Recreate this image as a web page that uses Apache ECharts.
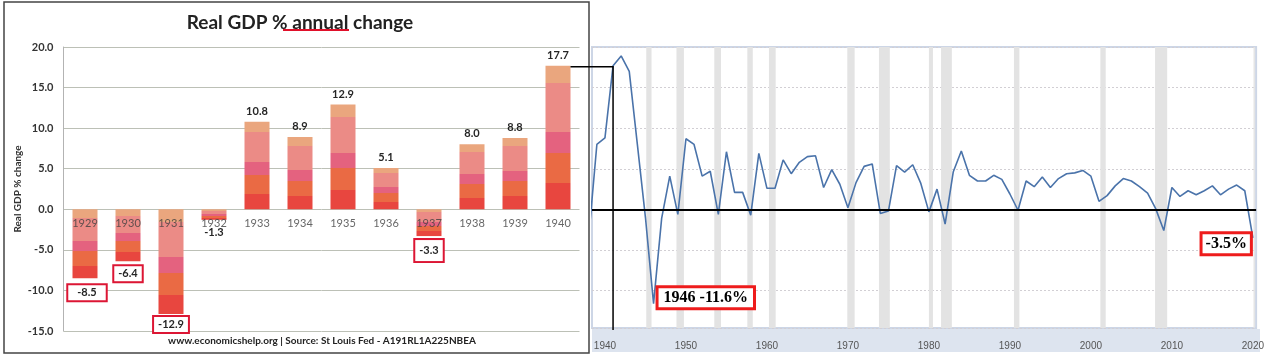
<!DOCTYPE html>
<html><head><meta charset="utf-8">
<script src="https://cdn.jsdelivr.net/npm/echarts@6/dist/echarts.min.js"></script>
<style>html,body{margin:0;padding:0;background:#fff}#c{width:1267px;height:358px}</style>
</head><body><div id="c"></div>
<script>
// ---- Left chart data (1929-1940 as labelled in the picture) ----
const leftYears = ['1929','1930','1931','1932','1933','1934','1935','1936','1937','1938','1939','1940'];
const leftValues = [-8.5,-6.4,-12.9,-1.3,10.8,8.9,12.9,5.1,-3.3,8.0,8.8,17.7];
const boxedYears = ['1929','1930','1931','1937'];
const leftTicks = [-15,-10,-5,0,5,10,15,20];

// ---- Right chart data (annual real GDP % change) ----
const rightYears = [1938,1939,1940,1941,1942,1943,1944,1945,1946,1947,1948,1949,
 1950,1951,1952,1953,1954,1955,1956,1957,1958,1959,
 1960,1961,1962,1963,1964,1965,1966,1967,1968,1969,
 1970,1971,1972,1973,1974,1975,1976,1977,1978,1979,
 1980,1981,1982,1983,1984,1985,1986,1987,1988,1989,
 1990,1991,1992,1993,1994,1995,1996,1997,1998,1999,
 2000,2001,2002,2003,2004,2005,2006,2007,2008,2009,
 2010,2011,2012,2013,2014,2015,2016,2017,2018,2019,2020];
const rightValues = [-3.3,8.0,8.8,17.7,18.9,17.0,8.0,-1.0,-11.6,-1.1,4.1,-0.6,
 8.7,8.0,4.1,4.7,-0.6,7.1,2.1,2.1,-0.7,6.9,
 2.6,2.6,6.1,4.4,5.8,6.5,6.6,2.7,4.9,3.1,
 0.2,3.3,5.3,5.6,-0.5,-0.2,5.4,4.6,5.5,3.2,
 -0.3,2.5,-1.8,4.6,7.2,4.2,3.5,3.5,4.2,3.7,
 1.9,-0.1,3.5,2.8,4.0,2.7,3.8,4.4,4.5,4.8,
 4.1,1.0,1.7,2.9,3.8,3.5,2.8,2.0,0.1,-2.6,
 2.7,1.6,2.3,1.8,2.3,2.9,1.8,2.5,3.0,2.3,-3.5];
const rightTickYears = [1940,1950,1960,1970,1980,1990,2000,2010,2020];
const recessionStarts = [1945.1,1948.83,1953.5,1957.58,1960.25,1969.92,1973.83,1980.0,1981.5,1990.5,2001.17,2007.92,2020.08];
const recessionEnds   = [1945.75,1949.75,1954.33,1958.25,1961.08,1970.83,1975.17,1980.5,1982.83,1991.17,2001.83,2009.42,2020.25];
const annotatedYears = {1946: true, 2020: false}; // true => include year in text

// ---- styles ----
const barGradient = {type:'linear',x:0,y:0,x2:0,y2:1,colorStops:[
 {offset:0,color:'#eaa67e'},{offset:0.12,color:'#eaa67e'},
 {offset:0.12,color:'#eb8b86'},{offset:0.46,color:'#eb8b86'},
 {offset:0.46,color:'#e4627f'},{offset:0.61,color:'#e4627f'},
 {offset:0.61,color:'#ea6a44'},{offset:0.82,color:'#ea6a44'},
 {offset:0.82,color:'#e8463f'},{offset:1,color:'#e8463f'}]};
const boxLabelStyle = {
 '1929': {distance:7, padding:[2,9,2,9], offset:[2,0]},
 '1930': {distance:5, padding:[2,4,2,4], offset:[0,0]},
 '1931': {distance:3, padding:[2,4,2,4], offset:[0,0]},
 '1937': {distance:4, padding:[5,4,5,4], offset:[0,0]}
};

const barData = leftValues.map((v,i)=>{
  const y = leftYears[i];
  const item = {value:v};
  if (boxedYears.includes(y)) {
    const s = boxLabelStyle[y];
    item.label = {show:true, position:'bottom', distance:s.distance, offset:s.offset,
      padding:s.padding, borderColor:'#dc1634', borderWidth:2, backgroundColor:'#fff'};
  } else if (v < 0) {
    item.label = {show:true, position:'bottom', distance:7};
  }
  return item;
});
// category labels sit on the zero line (Excel "next to axis")
const yearLabelData = leftYears.map((y)=>({value:0, name:y}));

const lineData = rightYears.map((y,i)=>{
  const item = {value:[y, rightValues[i]]};
  if (y in annotatedYears) {
    const withYear = annotatedYears[y];
    item.label = withYear ?
      {show:true, position:'right', distance:5, offset:[0,-6], padding:[2,5,1,5]} :
      {show:true, position:'left', distance:3, offset:[0,6], padding:[2,3,1,3]};
    item.label.formatter = withYear ? (p)=> p.value[0]+' '+p.value[1].toFixed(1)+'%' : (p)=> p.value[1].toFixed(1)+'%';
  }
  return item;
});

const markAreas = recessionStarts.map((s,i)=>[{xAxis:s},{xAxis:recessionEnds[i]}]);

const chart = echarts.init(document.getElementById('c'), null, {renderer:'canvas'});
const option = {
  animation:false,
  backgroundColor:'#fff',
  title:{text:'Real GDP % annual change', left:295, top:8, textAlign:'center',
    textStyle:{fontFamily:'Lato', fontWeight:'bold', fontSize:19, color:'#222'}},
  grid:[
    {left:63.5, top:47, width:516, height:284},
    {left:592, top:47, width:667, height:281, show:true, borderColor:'#cdd6e6', borderWidth:2, backgroundColor:'transparent'}
  ],
  xAxis:[
    {type:'category', gridIndex:0, data:leftYears,
     axisLine:{show:false}, axisTick:{show:false}, axisLabel:{show:false}},
    {type:'value', gridIndex:1, min:1938.4, max:2020.4, z:10,
     axisLine:{show:false}, axisTick:{show:false}, splitLine:{show:false},
     axisLabel:{customValues:rightTickYears, color:'#555', fontFamily:'Liberation Sans', fontSize:10, margin:13,
       formatter:(v)=>String(Math.round(v))}}
  ],
  yAxis:[
    {type:'value', gridIndex:0, min:leftTicks[0], max:leftTicks[leftTicks.length-1], interval:5,
     name:'Real GDP % change', nameLocation:'middle', nameGap:41, nameRotate:90,
     nameTextStyle:{fontFamily:'Lato', fontWeight:'bold', fontSize:10, color:'#333'},
     axisLine:{show:true, lineStyle:{color:'#b3b3b3'}}, axisTick:{show:false},
     axisLabel:{fontFamily:'Lato', fontWeight:'bold', fontSize:11, color:'#333', margin:10,
       formatter:(v)=>v.toFixed(1)},
     splitLine:{lineStyle:{color:'#bcc0b6', width:1}}},
    {type:'value', gridIndex:1, min:-14.6, max:20, splitNumber:7,
     axisLine:{show:false}, axisTick:{show:false}, axisLabel:{show:false},
     splitLine:{lineStyle:{color:'#d2cfd4', width:1, type:[2,2]}}}
  ],
  series:[
    {type:'bar', xAxisIndex:0, yAxisIndex:0, data:barData, barWidth:25,
     itemStyle:{color:barGradient},
     label:{show:true, position:'top', distance:5, fontFamily:'Lato', fontWeight:'bold', fontSize:11, color:'#262626',
       formatter:(p)=>p.value.toFixed(1)}},
    {type:'scatter', xAxisIndex:0, yAxisIndex:0, data:yearLabelData, symbolSize:0, z:6, silent:true,
     label:{show:true, position:'bottom', distance:9, fontFamily:'Lato', fontSize:11, color:'#404040',
       formatter:(p)=>p.name}},
    {type:'line', xAxisIndex:1, yAxisIndex:1, data:lineData,
     symbol:'circle', symbolSize:0, showSymbol:true,
     lineStyle:{color:'#4a73aa', width:1.6}, itemStyle:{color:'#4a73aa'},
     label:{show:false, fontFamily:'Liberation Serif', fontWeight:'bold', fontSize:16, color:'#000',
       backgroundColor:'#fff', borderColor:'#ee1c1c', borderWidth:3},
     markArea:{silent:true, itemStyle:{color:'#e3e3e3'}, data:markAreas},
     markLine:{silent:true, symbol:'none', label:{show:false},
       lineStyle:{color:'#000', width:2, type:'solid'}, data:[{yAxis:0}]}}
  ],
  graphic:[
    {id:'leftBorder', type:'rect', shape:{x:4,y:2,width:585,height:351}, style:{fill:'none', stroke:'#444', lineWidth:1.5}, z:20},
    {id:'underline', type:'line', shape:{x1:283,y1:30,x2:349,y2:30}, style:{stroke:'#e0102a', lineWidth:2}, z:20},
    {id:'source', type:'text', x:322, y:341, style:{text:'www.economicshelp.org | Source: St Louis Fed - A191RL1A225NBEA',
      font:'bold 10px Lato', fill:'#222', textAlign:'center', textVerticalAlign:'middle'}, z:20},
    {id:'band', type:'rect', shape:{x:592,y:329,width:668,height:23}, style:{fill:'#dde4ef'}, z:5}
  ]
};
chart.setOption(option);

// connector from the 1940 bar top to the right chart (1941) and down its plot
const pLeft = chart.convertToPixel({xAxisIndex:0, yAxisIndex:0}, [leftYears[leftYears.length-1], leftValues[leftValues.length-1]]);
const pTop = chart.convertToPixel({xAxisIndex:1, yAxisIndex:1}, [1941, 20]);
const pBot = chart.convertToPixel({xAxisIndex:1, yAxisIndex:1}, [1941, -14.6]);
chart.setOption({graphic:[
  {id:'connector', type:'polyline', shape:{points:[[pLeft[0]+12.5, pLeft[1]+1],[pTop[0], pLeft[1]+1],[pBot[0], pBot[1]+2]]},
   style:{stroke:'#000', lineWidth:1.5, fill:'none'}, z:20}
]});
</script></body></html>
